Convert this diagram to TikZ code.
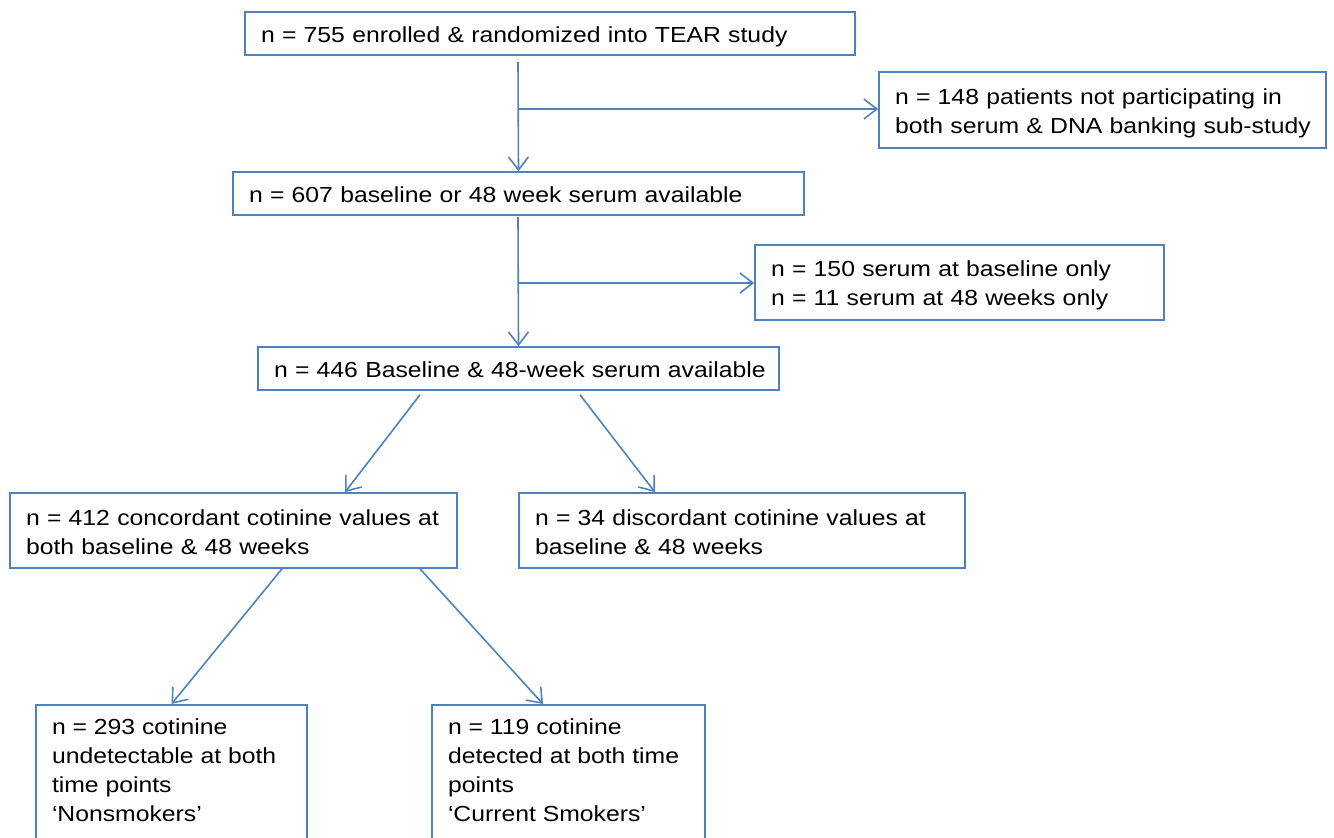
\documentclass[tikz,border=0pt]{standalone}
\usepackage{fontspec}
\setmainfont[FakeStretch=1.135]{Liberation Sans}
\usetikzlibrary{arrows.meta}
\definecolor{boxblue}{RGB}{79,129,189}
\newcommand{\mystrut}{\rule[-4pt]{0pt}{26pt}}
\newcommand{\mylaststrut}{\rule[-4pt]{0pt}{10pt}}
\tikzset{
  box/.style={draw=boxblue, line width=1.6pt, align=left, inner xsep=16pt, inner ysep=4pt,
    font=\fontsize{21.8}{29}\selectfont, text=black},
  sbox/.style={box, execute at begin node=\mystrut, execute at end node=\mylaststrut},
  arr/.style={draw=boxblue, line width=1.6pt, -{Straight Barb[length=13pt,width=20pt,line width=1.6pt]}}
}
\begin{document}
\begin{tikzpicture}[x=1pt,y=-1pt]
\useasboundingbox (0,0) rectangle (1334,838);
\clip (0,0) rectangle (1334,838);
\node[sbox, text width=578pt, minimum height=43pt] (b755) at (550,33.5) {n = 755 enrolled \& randomized into TEAR study};
\node[sbox, text width=415pt, minimum height=76pt] (r1) at (1102.5,110) {\mbox{n = 148 patients not participating in}\\\mbox{both serum \& DNA banking sub-study}};
\node[sbox, text width=539pt, minimum height=43pt] (b607) at (518.5,193.5) {n = 607 baseline or 48 week serum available};
\node[sbox, text width=377pt, minimum height=75pt] (r2) at (959.5,282.5) {n = 150 serum at baseline only\\n = 11 serum at 48 weeks only};
\node[sbox, text width=489pt, minimum height=43pt] (b446) at (518.5,368.5) {\mbox{n = 446 Baseline \& 48-week serum available}};
\node[sbox, text width=415pt, minimum height=75pt] (b412) at (233.5,530.5) {\mbox{n = 412 concordant cotinine values at}\\both baseline \& 48 weeks};
\node[sbox, text width=414pt, minimum height=75pt] (b34) at (742,530.5) {\mbox{n = 34 discordant cotinine values at}\\baseline \& 48 weeks};
\node[box, anchor=north, inner ysep=14pt] (b293) at (171.5,704) {\parbox[c][150pt][t]{239pt}{\rule[-4pt]{0pt}{20pt}n = 293 cotinine\\undetectable at both\\time points\\`Nonsmokers'}};
\node[box, anchor=north, inner ysep=14pt] (b119) at (568.5,704) {\parbox[c][150pt][t]{241pt}{\rule[-4pt]{0pt}{20pt}n = 119 cotinine\\detected at both time\\points\\`Current Smokers'}};
\coordinate (s1) at (518,62);
\coordinate (j1) at (518,109);
\draw[arr] (s1) -- (b607.north);
\draw[arr] (j1) -- (r1.west |- j1);
\coordinate (s2) at (518,217);
\coordinate (j2) at (518,283);
\draw[arr] (s2) -- (b446.north);
\draw[arr] (j2) -- (r2.west |- j2);
\draw[arr] ([xshift=-98.5pt,yshift=-4pt]b446.south) -- ([xshift=111.5pt]b412.north);
\draw[arr] ([xshift=61.5pt,yshift=-4pt]b446.south) -- ([xshift=-87pt]b34.north);
\draw[arr] ([xshift=48.5pt]b412.south) -- (b293.north);
\draw[arr] ([xshift=186.5pt]b412.south) -- ([xshift=-25.5pt]b119.north);
\end{tikzpicture}
\end{document}
